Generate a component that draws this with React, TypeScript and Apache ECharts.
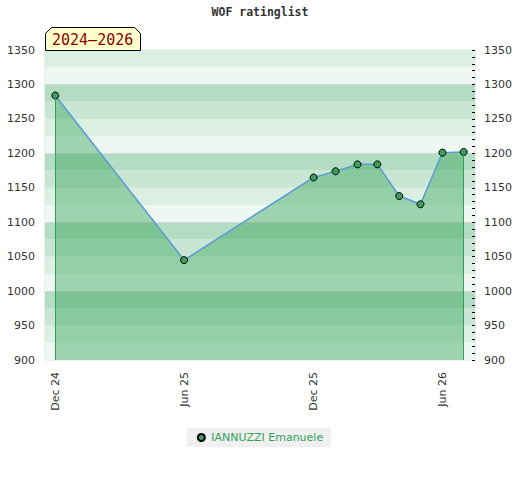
import React, { useEffect, useRef } from "react";
import * as echarts from "echarts";

const chartTitle = "WOF ratinglist";
const periodLabel = "2024–2026";
const seriesName = "IANNUZZI Emanuele";

const ratingDates = [
  "2024-12-01",
  "2025-06-01",
  "2025-12-01",
  "2026-01-01",
  "2026-02-01",
  "2026-03-01",
  "2026-04-01",
  "2026-05-01",
  "2026-06-01",
  "2026-07-01",
];
const ratings = [1284, 1045, 1165, 1174, 1184, 1184, 1138, 1126, 1201, 1202];

const tickDates = ["2024-12-01", "2025-06-01", "2025-12-01", "2026-06-01"];
const tickLabels = ["Dec 24", "Jun 25", "Dec 25", "Jun 26"];

const yMin = 900;
const yMax = 1350;
const yStep = 50;
const bandStep = 25;
const bandColors = ["#eef7f1", "#dcefe3", "#c8e6d3", "#b3ddc2"];
const gridLineValues = [1000, 1100, 1200, 1300];

const padDaysLeft = 14.5;
const padDaysRight = 16;

const toTime = (s: string) => {
  const [y, m, d] = s.split("-").map(Number);
  return Date.UTC(y, m - 1, d);
};

export default function App() {
  const ref = useRef<HTMLDivElement>(null);

  useEffect(() => {
    document.body.style.margin = "0";
    if (!ref.current) return;
    const chart = echarts.init(ref.current, undefined, { renderer: "svg" });

    const times = ratingDates.map(toTime);
    const tickTimes = tickDates.map(toTime);
    const day = 24 * 3600 * 1000;
    const xMin = times[0] - padDaysLeft * day;
    const xMax = times[times.length - 1] + padDaysRight * day;

    const bands: any[] = [];
    for (let v = yMin; v < yMax; v += bandStep) {
      const q = Math.floor((v % 100) / bandStep);
      bands.push([
        { yAxis: v, itemStyle: { color: bandColors[q], opacity: 1 } },
        { yAxis: v + bandStep },
      ]);
    }

    const seriesData = times.map((t, i) => [t, ratings[i]]);
    const first = seriesData[0];
    const last = seriesData[seriesData.length - 1];

    const axisFont = { fontFamily: "DejaVu Sans", fontSize: 11, color: "#333" };
    const plain = (v: number) => String(v);

    chart.setOption({
      animation: false,
      title: {
        text: chartTitle,
        left: "center",
        top: 6,
        padding: 0,
        textStyle: {
          fontFamily: "DejaVu Sans Mono",
          fontWeight: "bold",
          fontSize: 11.5,
          color: "#333",
        },
      },
      grid: {
        left: 45,
        right: 45,
        top: 50,
        bottom: 120,
        show: true,
        borderColor: "#dddddd",
        borderWidth: 1,
        backgroundColor: "transparent",
      },
      legend: {
        data: [seriesName],
        left: "center",
        top: 428,
        icon: "circle",
        itemWidth: 10,
        itemHeight: 7,
        itemGap: 5,
        padding: [4, 8, 4, 10],
        backgroundColor: "#f0f0f0",
        textStyle: { fontFamily: "DejaVu Sans", fontSize: 11, color: "#2ea05a" },
      },
      xAxis: {
        type: "value",
        min: xMin,
        max: xMax,
        axisLine: { show: false },
        axisTick: { show: false },
        splitLine: { show: false },
        axisLabel: {
          ...axisFont,
          rotate: 90,
          margin: 12,
          customValues: tickTimes,
          formatter: (v: number) => {
            const i = tickTimes.indexOf(v);
            return i >= 0 ? tickLabels[i] : "";
          },
        },
      },
      yAxis: [
        {
          type: "value",
          min: yMin,
          max: yMax,
          interval: yStep,
          position: "left",
          axisLine: { show: false },
          axisTick: { show: false },
          splitLine: { show: false },
          axisLabel: { ...axisFont, margin: 10, formatter: plain },
        },
        {
          type: "value",
          min: yMin,
          max: yMax,
          interval: yStep,
          position: "right",
          axisLine: { show: false },
          axisTick: { show: false },
          splitLine: { show: false },
          axisLabel: { ...axisFont, margin: 9, formatter: plain },
        },
        {
          type: "value",
          z: 10,
          min: yMin,
          max: yMax,
          interval: yStep,
          position: "right",
          offset: -3,
          axisLine: { show: false },
          axisTick: { show: true, inside: false, length: 3, lineStyle: { color: "#000" } },
          minorTick: { show: true, splitNumber: 5, length: 3, lineStyle: { color: "#000" } },
          splitLine: { show: false },
          axisLabel: { show: false },
        },
      ],
      series: [
        {
          name: "bands",
          type: "line",
          data: [],
          silent: true,
          markArea: {
            silent: true,
            z: 1,
            label: { show: false },
            data: bands,
          },
          markLine: {
            silent: true,
            z: 1.5,
            symbol: ["none", "none"],
            label: { show: false },
            lineStyle: { color: "#d9d9d9", type: "solid", width: 1 },
            data: gridLineValues.map((v) => ({ yAxis: v })),
          },
        },
        {
          name: seriesName,
          type: "line",
          data: seriesData,
          z: 3,
          symbol: "circle",
          symbolSize: 7,
          itemStyle: { color: "#3a9f5c", borderColor: "#000", borderWidth: 1 },
          lineStyle: { color: "#5b9bd5", width: 1.5 },
          areaStyle: { color: "rgb(47,162,83)", opacity: 0.42, origin: "start" },
          markLine: {
            silent: true,
            symbol: ["none", "none"],
            label: { show: false },
            lineStyle: { color: "#2f9e57", type: "solid", width: 1, opacity: 1 },
            data: [
              [{ coord: first }, { coord: [first[0], yMin] }],
              [{ coord: last }, { coord: [last[0], yMin] }],
            ],
          },
        },
      ],
      graphic: [
        {
          type: "polygon",
          z: 100,
          shape: {
            points: [
              [45.5, 50.5],
              [45.5, 33.5],
              [51.5, 27.5],
              [134.5, 27.5],
              [140.5, 33.5],
              [140.5, 50.5],
            ],
          },
          style: { fill: "#ffffcc", stroke: "#000", lineWidth: 1 },
        },
        {
          type: "text",
          z: 101,
          x: 52,
          y: 39.5,
          style: {
            text: periodLabel,
            fontFamily: "DejaVu Sans Mono",
            fontSize: 15,
            fill: "#8b0000",
            verticalAlign: "middle",
            align: "left",
          },
        },
      ],
    });

    return () => chart.dispose();
  }, []);

  return <div ref={ref} style={{ width: 520, height: 480 }} />;
}
